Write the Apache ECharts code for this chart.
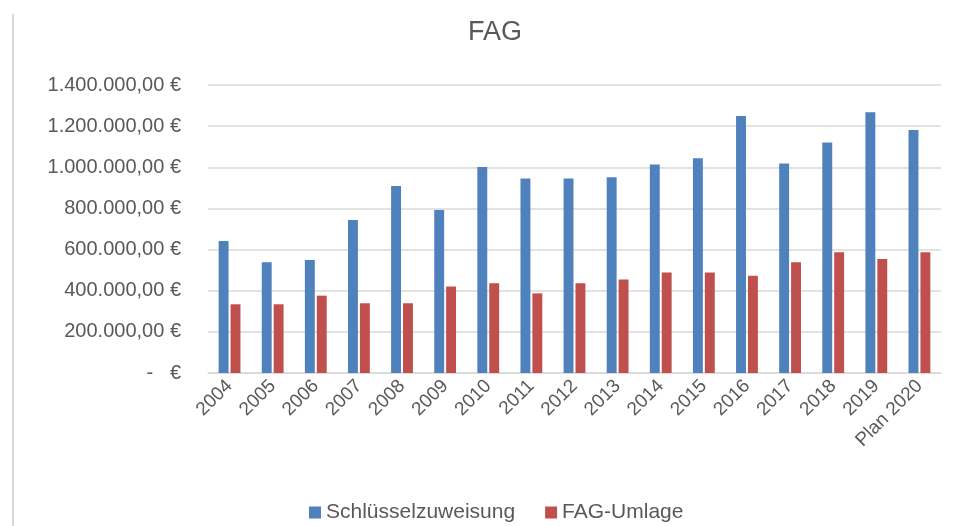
<!DOCTYPE html>
<html>
<head>
<meta charset="utf-8">
<script src="https://cdn.jsdelivr.net/npm/echarts@6/dist/echarts.min.js"></script>
<style>
  html, body { margin: 0; padding: 0; background: #fff; }
  #frame { position: absolute; left: 12px; top: 14px; width: 2px; height: 512px; background: #d9d9d9; }
  #chart { width: 953px; height: 526px; }
</style>
</head>
<body>
<div id="chart"></div>
<div id="frame"></div>
<script>
// Jahre
const years = ['2004', '2005', '2006', '2007', '2008', '2009', '2010', '2011', '2012',
  '2013', '2014', '2015', '2016', '2017', '2018', '2019', 'Plan 2020']

// Schlüsselzuweisung (€)
const schluesselzuweisung = [642000, 538000, 549000, 744000, 909000, 792000, 1001000, 946000, 946000,
  951000, 1014000, 1044000, 1249000, 1019000, 1120000, 1267000, 1181000]

// FAG-Umlage (€)
const fagUmlage = [334000, 334000, 376000, 339000, 339000, 420000, 436000, 387000, 436000,
  455000, 488000, 488000, 473000, 538000, 587000, 554000, 587000]

const yTicks = [0, 200000, 400000, 600000, 800000, 1000000, 1200000, 1400000]

const textColor = '#595959'
const fontFamily = "'Liberation Sans', Arial, sans-serif"

// Euro-Format wie in Excel
const formatEuro = (v) => {
  if (v === 0) return '-   €'
  return v.toLocaleString('de-DE', { minimumFractionDigits: 2, maximumFractionDigits: 2 }) + ' €'
}

const chart = echarts.init(document.getElementById('chart'))

const option = {
  animation: false,
  textStyle: { fontFamily: fontFamily },
  title: {
    text: 'FAG',
    left: 463,
    top: 14,
    textStyle: { color: textColor, fontSize: 27, fontWeight: 'normal', fontFamily: fontFamily }
  },
  legend: {
    data: ['Schlüsselzuweisung', 'FAG-Umlage'],
    bottom: -2,
    left: 304,
    itemWidth: 12,
    itemHeight: 12,
    itemGap: 30,
    icon: 'rect',
    textStyle: { color: textColor, fontSize: 21, fontFamily: fontFamily }
  },
  grid: {
    left: 208,
    right: 12,
    top: 85,
    bottom: 153
  },
  xAxis: {
    type: 'category',
    data: years,
    axisLine: { lineStyle: { color: '#d9d9d9', width: 1.5 } },
    axisTick: { show: false },
    axisLabel: {
      color: textColor,
      fontSize: 19,
      rotate: 45,
      interval: 0,
      margin: 10
    }
  },
  yAxis: {
    type: 'value',
    min: 0,
    max: yTicks[yTicks.length - 1],
    interval: 200000,
    axisLine: { show: false },
    axisTick: { show: false },
    splitLine: { lineStyle: { color: '#d9d9d9', width: 1.5 } },
    axisLabel: {
      color: textColor,
      fontSize: 20,
      margin: 27,
      formatter: formatEuro
    }
  },
  series: [
    {
      name: 'Schlüsselzuweisung',
      type: 'bar',
      data: schluesselzuweisung,
      barWidth: '23%',
      barGap: '20%',
      itemStyle: { color: '#4f81bd' }
    },
    {
      name: 'FAG-Umlage',
      type: 'bar',
      data: fagUmlage,
      barWidth: '23%',
      itemStyle: { color: '#c0504d' }
    }
  ]
}

chart.setOption(option)
</script>
</body>
</html>
